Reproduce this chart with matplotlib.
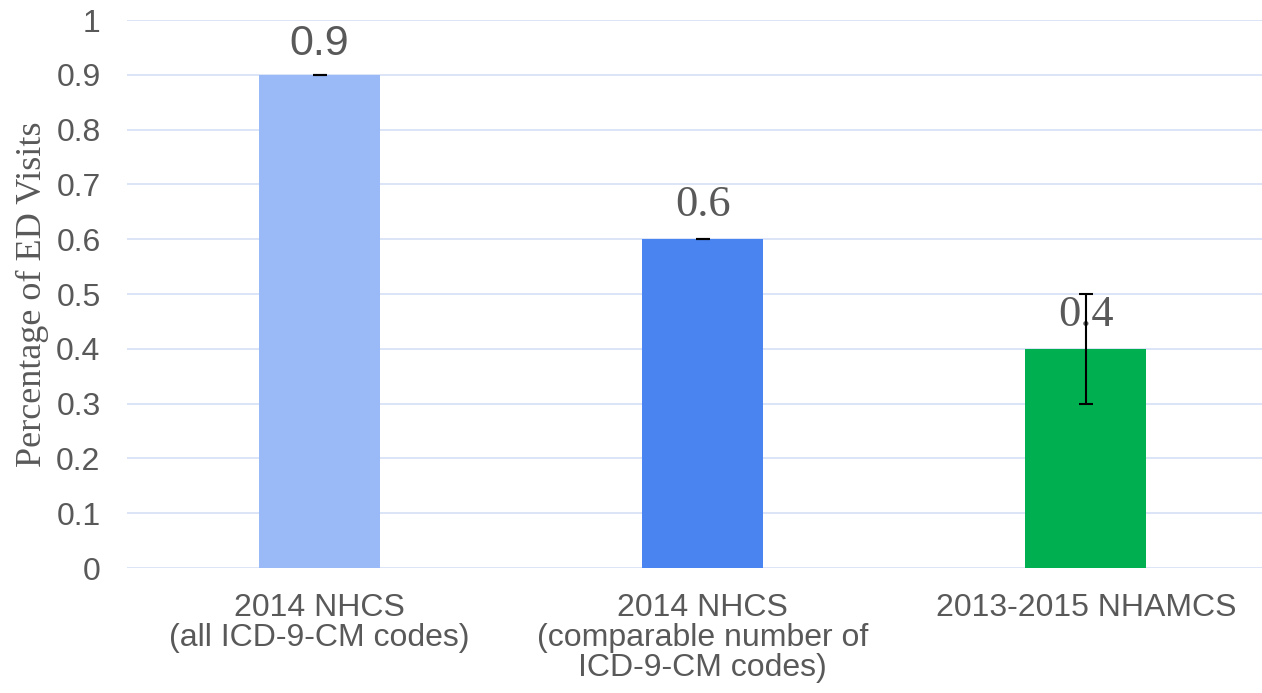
import matplotlib.pyplot as plt
import numpy as np

# data
categories = [
    "2014 NHCS\n(all ICD-9-CM codes)",
    "2014 NHCS\n(comparable number of\nICD-9-CM codes)",
    "2013-2015 NHAMCS",
]
values = [0.9, 0.6, 0.4]
err_low = [0.0, 0.0, 0.1]
err_high = [0.0, 0.0, 0.1]
value_labels = ["0.9", "0.6", "0.4"]
yticks = [0, 0.1, 0.2, 0.3, 0.4, 0.5, 0.6, 0.7, 0.8, 0.9, 1.0]
ytick_labels = ["0", "0.1", "0.2", "0.3", "0.4", "0.5", "0.6", "0.7", "0.8", "0.9", "1"]

bar_colors = ["#99baf6", "#4a84f1", "#00b050"]
label_fonts = ["Liberation Sans", "Liberation Serif", "Liberation Serif"]
label_sizes = [31, 32, 32]
label_offsets = [8, 10, 10]

fig = plt.figure(figsize=(12.62, 6.93), dpi=100)
ax = fig.add_axes([127 / 1262, 125 / 693, 1135 / 1262, 548 / 693])

x = np.arange(len(categories))
ax.bar(x, values, width=0.316, color=bar_colors, zorder=2)
ax.errorbar(x, values, yerr=[err_low, err_high], fmt="none", ecolor="black",
            elinewidth=1.5, capsize=5, capthick=1.5, zorder=3)

for xi, v, lab, fam, fs, off in zip(x, values, value_labels, label_fonts, label_sizes, label_offsets):
    ax.annotate(lab, (xi, v), xytext=(0, off), textcoords="offset points",
                ha="center", va="bottom", fontsize=fs, family=fam, color="#595959",
                zorder=1)

ax.set_xlim(-0.503, 2.46)
ax.set_ylim(0, 1.0)
ax.set_yticks(yticks)
ax.set_yticklabels(ytick_labels, fontsize=23, family="Liberation Sans", color="#595959")
ax.set_xticks(x)
ax.set_xticklabels(categories, fontsize=23, family="Liberation Sans", color="#595959",
                   linespacing=1.0)
ax.tick_params(length=0, axis="y", pad=19)
ax.tick_params(length=0, axis="x", pad=18)
ax.grid(axis="y", color="#d9e2f7", linewidth=1.3, zorder=0)
ax.set_axisbelow(True)
for s in ax.spines.values():
    s.set_visible(False)

ax.set_ylabel("Percentage of ED Visits", fontsize=26, family="Liberation Serif",
              color="#595959", labelpad=5)

fig.savefig("out.png", dpi=100)
